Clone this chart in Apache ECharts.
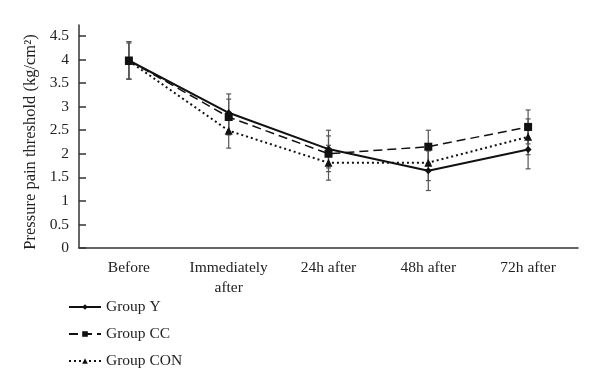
<!DOCTYPE html>
<html><head><meta charset="utf-8">
<script src="https://cdn.jsdelivr.net/npm/echarts@6/dist/echarts.min.js"></script>
<style>html,body{margin:0;padding:0;background:#fff}#c{width:600px;height:386px}</style>
</head><body><div id="c"></div>
<script>
const categories = ['Before', 'Immediately\nafter', '24h after', '48h after', '72h after'];
const yTicks = [0, 0.5, 1, 1.5, 2, 2.5, 3, 3.5, 4, 4.5];
const groupY = [3.98, 2.87, 2.10, 1.64, 2.09];
const groupCC = [3.98, 2.78, 2.00, 2.15, 2.57];
const groupCON = [3.97, 2.49, 1.81, 1.81, 2.36];
const sdY = [0.40, 0.40, 0.40, 0.42, 0.41];
const sdCC = [0.40, 0.38, 0.38, 0.35, 0.36];
const sdCON = [0.38, 0.37, 0.37, 0.38, 0.38];

const FONT = 'Liberation Serif';
const chart = echarts.init(document.getElementById('c'), null, {renderer: 'canvas'});

function errData(vals, sds) {
  return vals.map((v, i) => [i, v - sds[i], v + sds[i]]);
}
function errSeries(name, vals, sds) {
  return {
    type: 'custom', name: name + ' err', xAxisIndex: 0, yAxisIndex: 0, z: 1,
    data: errData(vals, sds),
    renderItem: function (params, api) {
      const x = api.value(0);
      const lo = api.coord([x, api.value(1)]);
      const hi = api.coord([x, api.value(2)]);
      const c = 2.5;
      const st = {stroke: '#555', lineWidth: 1.2};
      return {type: 'group', children: [
        {type: 'line', shape: {x1: hi[0], y1: hi[1], x2: lo[0], y2: lo[1]}, style: st},
        {type: 'line', shape: {x1: hi[0] - c, y1: hi[1], x2: hi[0] + c, y2: hi[1]}, style: st},
        {type: 'line', shape: {x1: lo[0] - c, y1: lo[1], x2: lo[0] + c, y2: lo[1]}, style: st}
      ]};
    },
    silent: true
  };
}

const option = {
  animation: false,
  backgroundColor: '#fff',
  textStyle: {fontFamily: FONT},
  grid: [
    {left: 79, right: 22, top: 36, bottom: 138},
    {left: 79, right: 22, top: 25, bottom: 138}
  ],
  legend: {
    data: ['Group Y', 'Group CC', 'Group CON'],
    orient: 'vertical', left: 63, top: 294,
    itemWidth: 32, itemHeight: 7, itemGap: 11,
    textStyle: {fontFamily: FONT, fontSize: 15.5, color: '#222'}
  },
  xAxis: [
    {
      type: 'category', gridIndex: 0, data: categories, boundaryGap: true,
      axisLine: {lineStyle: {color: '#333', width: 1.5}},
      axisTick: {inside: true, alignWithLabel: true, length: 8, lineStyle: {color: '#333', width: 1.5}},
      axisLabel: {fontFamily: FONT, fontSize: 15.5, color: '#222', margin: 10, interval: 0, lineHeight: 20}
    },
    {type: 'category', gridIndex: 1, data: categories, show: false}
  ],
  yAxis: [
    {
      type: 'value', gridIndex: 0, min: 0, max: 4.5, interval: 0.5,
      axisLine: {show: false},
      axisTick: {show: true, inside: true, length: 7, lineStyle: {color: '#333', width: 1.5}},
      axisLabel: {fontFamily: FONT, fontSize: 15.5, color: '#222', margin: 10,
        formatter: v => yTicks.indexOf(v) >= 0 ? String(v) : ''},
      splitLine: {show: false},
      name: 'Pressure pain threshold (kg/cm²)', nameLocation: 'middle', nameGap: 36,
      nameTextStyle: {fontFamily: FONT, fontSize: 16.5, color: '#222'}
    },
    {
      type: 'value', gridIndex: 1, min: 0, max: 1,
      axisLine: {show: true, lineStyle: {color: '#333', width: 1.5}},
      axisTick: {show: false}, axisLabel: {show: false}, splitLine: {show: false}
    }
  ],
  series: [
    errSeries('Group Y', groupY, sdY),
    errSeries('Group CC', groupCC, sdCC),
    errSeries('Group CON', groupCON, sdCON),
    {
      name: 'Group Y', type: 'line', data: groupY, z: 5,
      symbol: 'diamond', symbolSize: 7, showSymbol: true,
      itemStyle: {color: '#111'}, lineStyle: {color: '#111', width: 2, type: 'solid'}
    },
    {
      name: 'Group CC', type: 'line', data: groupCC, z: 4,
      symbol: 'rect', symbolSize: 8,
      itemStyle: {color: '#111'}, lineStyle: {color: '#111', width: 1.5, type: [9, 5]}
    },
    {
      name: 'Group CON', type: 'line', data: groupCON, z: 3,
      symbol: 'triangle', symbolSize: 8,
      itemStyle: {color: '#111'}, lineStyle: {color: '#111', width: 2, type: [2, 3]}
    }
  ]
};
chart.setOption(option);
</script></body></html>
